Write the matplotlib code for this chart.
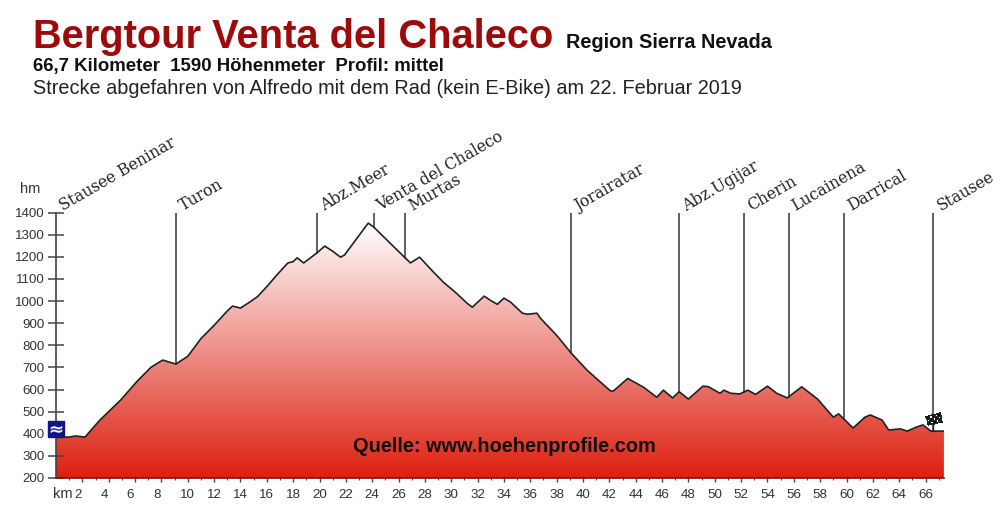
import matplotlib
matplotlib.use('Agg')
import matplotlib.pyplot as plt
import numpy as np
from matplotlib.colors import LinearSegmentedColormap
from matplotlib.patches import PathPatch
from matplotlib.path import Path
from matplotlib.transforms import Affine2D, ScaledTranslation

km = [0, 1, 1.5, 2.2, 3.3, 4.9, 6.2, 7.2, 7.6, 8.1, 8.7, 9.1, 10, 11, 12, 13, 13.4, 14, 14.7, 15.3,
      16, 16.8, 17.6, 18, 18.3, 18.8, 19.8, 20.4, 21, 21.6, 21.9, 22.8, 23.7, 24.1, 25.3, 26.5, 26.9,
      27.6, 28.5, 29.4, 30.3, 31.2, 31.6, 32.5, 33, 33.5, 34, 34.5, 35.4, 35.8, 36.5, 36.8, 38, 39.1,
      40.3, 41.2, 42.1, 42.3, 43.4, 44.6, 45.6, 46.1, 46.8, 47.3, 48, 49.1, 49.5, 50.4, 50.7, 51.2,
      51.9, 52.5, 53.1, 54, 54.7, 55.5, 56.6, 57.8, 59, 59.4, 60.5, 61.4, 61.8, 62.7, 63.2, 64.1,
      64.6, 65.3, 65.8, 66.4, 67.4]
hoehe = [385, 385, 390, 385, 460, 552, 640, 700, 715, 733, 722, 715, 750, 830, 890, 955, 977, 968, 995, 1020,
         1065, 1120, 1172, 1178, 1195, 1172, 1217, 1248, 1225, 1198, 1208, 1280, 1352, 1335, 1265, 1195, 1172,
         1198, 1140, 1085, 1040, 990, 972, 1022, 1002, 985, 1013, 995, 945, 940, 945, 920, 845, 765,
         688, 640, 593, 593, 650, 610, 565, 597, 562, 590, 557, 615, 613, 583, 597, 583,
         580, 597, 578, 615, 583, 562, 612, 557, 475, 490, 426, 475, 485, 462, 417, 422,
         412, 430, 440, 412, 412]

orte = ['Stausee Beninar', 'Turon', 'Abz.Meer', 'Venta del Chaleco', 'Murtas', 'Jorairatar',
        'Abz.Ugijar', 'Cherin', 'Lucainena', 'Darrical', 'Stausee']
orte_km = [0, 9.1, 19.8, 24.1, 26.5, 39.1, 47.3, 52.2, 55.6, 59.8, 66.6]

y_ticks = list(range(200, 1500, 100))
x_ticks = list(range(2, 68, 2))

plt.rcParams['font.family'] = ['Liberation Sans', 'DejaVu Sans']

fig = plt.figure(figsize=(10, 5.08), dpi=100)
ax = fig.add_axes([0.056, 30 / 508, 0.888, 265.5 / 508])
ax.patch.set_alpha(0)

# profile filled with a vertical gradient
cmap = LinearSegmentedColormap.from_list('profil', ['#dd2010', '#ffffff'])
grad = np.linspace(0, 1, 256).reshape(-1, 1)
img = ax.imshow(grad, cmap=cmap, origin='lower', aspect='auto', extent=[0, 67.4, 200, max(hoehe)], zorder=1)
verts = [(km[0], 200)] + list(zip(km, hoehe)) + [(km[-1], 200), (km[0], 200)]
patch = PathPatch(Path(verts), transform=ax.transData, facecolor='none', edgecolor='none')
ax.add_patch(patch)
img.set_clip_path(patch)
ax.set_xlim(0, 67.4)
ax.set_ylim(200, 1400)

ax.plot(km, hoehe, color='#222222', lw=1.2, zorder=3)
ax.plot([km[-1], km[-1]], [200, hoehe[-1]], color='#6fc8c8', lw=1, zorder=3)

# station lines and names
for name, pos in zip(orte, orte_km):
    if pos > 0:
        ax.plot([pos, pos], [np.interp(pos, km, hoehe), 1400], color='#555555', lw=1.3, zorder=2)
    ax.annotate(name, (pos, 1400), xytext=(5, 1), textcoords='offset points', rotation=30,
                rotation_mode='anchor', ha='left', va='baseline', family='DejaVu Serif',
                fontsize=11.3, color='#222222', annotation_clip=False)

for s in ['top', 'right']:
    ax.spines[s].set_visible(False)
ax.spines['left'].set_color('#444444')
ax.spines['left'].set_linewidth(1.2)
ax.spines['bottom'].set_color('#7a1008')
ax.spines['bottom'].set_linewidth(1.2)

ax.set_yticks(y_ticks)
ax.set_xticks(x_ticks)
ax.set_xticks(range(1, 68), minor=True)
ax.tick_params(axis='y', direction='inout', length=12, width=1.1, color='#444444',
               labelsize=9.6, labelcolor='#333333', pad=2)
ax.tick_params(axis='x', which='major', direction='out', length=3, width=1, color='#444444',
               labelsize=9.6, labelcolor='#333333', pad=5)
ax.tick_params(axis='x', which='minor', direction='out', length=1.5, width=0.8, color='#444444')

# single digit labels sit a little left of their tick
for lab, val in zip(ax.get_xticklabels(), x_ticks):
    if val < 10:
        lab.set_transform(lab.get_transform() + ScaledTranslation(-4.5 / 100, 0, fig.dpi_scale_trans))

fig.text(63 / 1000, 1 - 494 / 508, 'km', fontsize=10.5, color='#333333', ha='center', va='center')
fig.text(30 / 1000, 1 - 189 / 508, 'hm', fontsize=10.5, color='#333333', ha='center', va='center')

# start and finish symbols
start_h = np.interp(0, km, hoehe)
ziel_h = np.interp(66.6, km, hoehe)
ax.plot([0], [start_h + 38], marker='s', ms=11, color='#14148c', zorder=5, clip_on=False)
ax.plot([0], [start_h + 38], marker='$\\approx$', ms=8, color='white', mew=0.3, zorder=6, clip_on=False)
ax.plot([66.6, 66.6], [ziel_h, ziel_h + 40], color='#222222', lw=1, zorder=5)
px, py = ax.transData.transform((66.6, ziel_h + 28))
check = np.indices((3, 5)).sum(axis=0) % 2
ax.pcolormesh(check, cmap='gray', edgecolors='#222222', linewidth=0.3, zorder=6, clip_on=False,
              transform=Affine2D().scale(2.8).rotate_deg(14).translate(px - 5, py))

fig.text(0.033, 1 - 48 / 508, 'Bergtour Venta del Chaleco', fontsize=28.7, fontweight='bold',
         color='#9c0a0a', ha='left', va='baseline')
fig.text(0.566, 1 - 48 / 508, 'Region Sierra Nevada', fontsize=14.3, fontweight='bold',
         color='#111111', ha='left', va='baseline')
fig.text(0.033, 1 - 70.5 / 508, '66,7 Kilometer  1590 Höhenmeter  Profil: mittel', fontsize=13.4,
         fontweight='bold', color='#111111', ha='left', va='baseline')
fig.text(0.033, 1 - 94 / 508, 'Strecke abgefahren von Alfredo mit dem Rad (kein E-Bike) am 22. Februar 2019',
         fontsize=14.3, color='#222222', ha='left', va='baseline')
fig.text(0.504, 1 - 447 / 508, 'Quelle: www.hoehenprofile.com', fontsize=14.4, fontweight='bold',
         color='#111111', ha='center', va='center', zorder=10)

fig.savefig('out.png', dpi=100)
plt.close(fig)
